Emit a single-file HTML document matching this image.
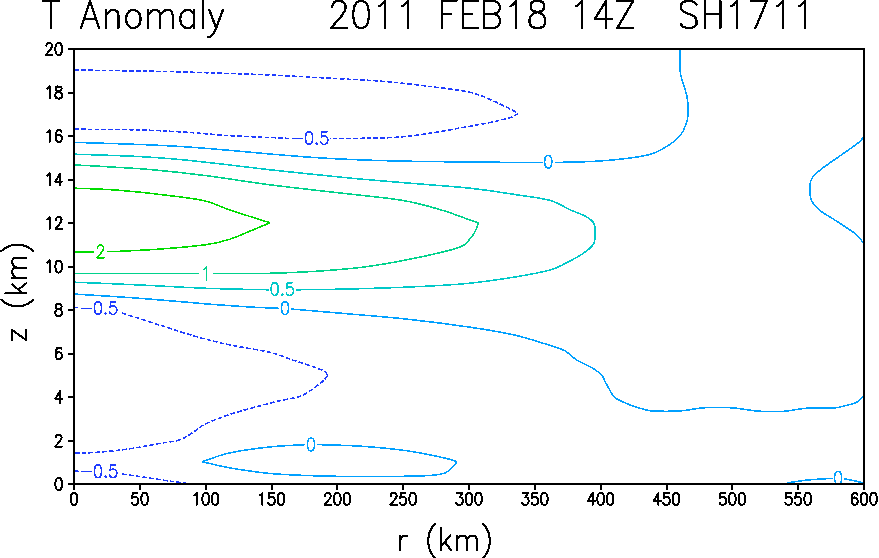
<!DOCTYPE html>
<html><head><meta charset="utf-8"><title>T Anomaly</title>
<style>html,body{margin:0;padding:0;background:#fff;font-family:"Liberation Sans",sans-serif}svg{display:block}</style></head><body>
<svg width="879" height="558" viewBox="0 0 879 558">
<rect x="0" y="0" width="879" height="558" fill="#fff"/>
<g id="contours" shape-rendering="crispEdges">
<path d="M74.5 70 C85.08 70.17 122.07 70.73 138 71 C153.93 71.27 156.43 71.23 170.1 71.6 C183.77 71.97 203.35 72.63 220 73.2 C236.65 73.77 250.28 74.08 270 75 C289.72 75.92 319.33 77.63 338.3 78.7 C357.27 79.77 368.63 80.12 383.8 81.4 C398.97 82.68 414.93 84.58 429.3 86.4 C443.67 88.22 459.42 89.92 470 92.3 C480.58 94.68 485.97 97.85 492.8 100.7 C499.63 103.55 506.77 107.3 511 109.4 C515.23 111.5 517 112.65 518.2 113.3" fill="none" stroke="#1e3cff" stroke-width="1.55" stroke-dasharray="4.7 2.1"/>
<path d="M518.2 113.3 C517 113.98 515.23 115.97 511 117.4 C506.77 118.83 499.25 120.5 492.8 121.9 C486.35 123.3 482.88 123.9 472.3 125.8 C461.72 127.7 441.78 131.4 429.3 133.3 C416.82 135.2 408.78 136.37 397.4 137.2 C386.02 138.03 372.15 138.12 361 138.3 C349.85 138.48 335.58 138.3 330.5 138.3" fill="none" stroke="#1e3cff" stroke-width="1.55" stroke-dasharray="4.7 2.1"/>
<path d="M289.5 138.5 C286.25 138.33 280.08 137.98 270 137.5 C259.92 137.02 243.37 136.5 229 135.6 C214.63 134.7 198.97 133.05 183.8 132.1 C168.63 131.15 156.22 130.38 138 129.9 C119.78 129.42 85.08 129.32 74.5 129.2" fill="none" stroke="#1e3cff" stroke-width="1.55" stroke-dasharray="4.7 2.1"/>
<path d="M74.5 142.4 C85.08 142.73 119.78 143.68 138 144.4 C156.22 145.12 168.63 145.72 183.8 146.7 C198.97 147.68 214.63 149.08 229 150.3 C243.37 151.52 255.58 152.78 270 154 C284.42 155.22 300.33 156.62 315.5 157.6 C330.67 158.58 345.83 159.3 361 159.9 C376.17 160.5 388.33 160.83 406.5 161.2 C424.67 161.57 447.25 161.89 470 162.1 C492.75 162.31 530.83 162.39 543 162.45" fill="none" stroke="#00a0ff" stroke-width="1.55"/>
<path d="M555.2 162.45 C561.85 162.26 582.75 162.03 595.1 161.3 C607.45 160.58 619.82 159.35 629.3 158.1 C638.78 156.85 645.22 156.08 652 153.8 C658.78 151.52 665.3 147.43 670 144.4 C674.7 141.37 677.55 138.9 680.2 135.6 C682.85 132.3 684.57 128.32 685.9 124.6 C687.23 120.88 688 117.85 688.2 113.3 C688.4 108.75 688.05 102.62 687.1 97.3 C686.15 91.98 683.67 85.75 682.5 81.4 C681.33 77.05 680.52 74.77 680.1 71.2 C679.68 67.63 680.02 63.62 680 60 C679.98 56.38 680 51.25 680 49.5" fill="none" stroke="#00a0ff" stroke-width="1.55"/>
<path d="M74.5 154.2 C85.08 154.58 119.78 155.55 138 156.5 C156.22 157.45 168.63 158.5 183.8 159.9 C198.97 161.3 214.63 163.25 229 164.9 C243.37 166.55 255.67 168.2 270 169.8 C284.33 171.4 299.83 172.95 315 174.5 C330.17 176.05 344.33 177.58 361 179.1 C377.67 180.62 396.83 182.08 415 183.6 C433.17 185.12 453.25 186.37 470 188.2 C486.75 190.03 502.23 192.58 515.5 194.6 C528.77 196.62 540.5 197.77 549.6 200.3 C558.7 202.83 564.03 207.08 570.1 209.8 C576.17 212.52 582.02 214.32 586 216.6 C589.98 218.88 592.48 220.65 594 223.5 C595.52 226.35 595.18 230.3 595.1 233.7 C595.02 237.1 595.38 240.68 593.5 243.9 C591.62 247.12 588.45 249.77 583.8 253 C579.15 256.23 571.3 260.45 565.6 263.3 C559.9 266.15 557.95 267.83 549.6 270.1 C541.25 272.37 528.77 274.72 515.5 276.9 C502.23 279.08 484.25 281.68 470 283.2 C455.75 284.72 444.37 285.2 430 286 C415.63 286.8 398.8 287.47 383.8 288 C368.8 288.53 354.6 288.9 340 289.2 C325.4 289.5 303.5 289.7 296.2 289.8" fill="none" stroke="#00c8c8" stroke-width="1.55"/>
<path d="M268.7 289.8 C258.33 289.55 228.23 289.12 206.5 288.3 C184.77 287.48 160.3 285.92 138.3 284.9 C116.3 283.88 85.13 282.65 74.5 282.2" fill="none" stroke="#00c8c8" stroke-width="1.55"/>
<path d="M74.5 164.9 C81.25 165.28 101.75 166.37 115 167.2 C128.25 168.03 138.75 168.48 154 169.9 C169.25 171.32 187.17 173.22 206.5 175.7 C225.83 178.18 248.03 181.95 270 184.8 C291.97 187.65 316.3 190.22 338.3 192.8 C360.3 195.38 384.93 197.47 402 200.3 C419.07 203.13 429.37 206.52 440.7 209.8 C452.03 213.08 463.68 217.83 470 220 C476.32 222.17 477.17 222.33 478.6 222.8" fill="none" stroke="#00d28c" stroke-width="1.55"/>
<path d="M478.6 222.8 C477.93 224.43 476.03 229.98 474.6 232.6 C473.17 235.22 471.48 236.6 470 238.5 C468.52 240.4 468.7 242.15 465.7 244 C462.7 245.85 461.87 246.95 452 249.6 C442.13 252.25 421.67 256.93 406.5 259.9 C391.33 262.87 376.17 265.5 361 267.4 C345.83 269.3 330.67 270.32 315.5 271.3 C300.33 272.28 287 272.93 270 273.3 C253 273.67 222.92 273.47 213.5 273.5" fill="none" stroke="#00d28c" stroke-width="1.55"/>
<path d="M198.5 273.5 L74.5 273.5" fill="none" stroke="#00d28c" stroke-width="1.55"/>
<path d="M74.5 188.2 C81.33 188.5 101.08 188.93 115.5 190 C129.92 191.07 146.22 192.82 161 194.6 C175.78 196.38 192.82 198.17 204.2 200.7 C215.58 203.23 218.33 206.12 229.3 209.8 C240.27 213.48 263.22 220.63 270 222.8" fill="none" stroke="#00dc00" stroke-width="1.55"/>
<path d="M270 222.8 C267 224.05 258.78 227.53 252 230.3 C245.22 233.07 236.88 237.02 229.3 239.4 C221.72 241.78 217.88 243 206.5 244.6 C195.12 246.2 176.17 247.85 161 249 C145.83 250.15 124.5 251.07 115.5 251.5 C106.5 251.93 108.42 251.58 107 251.6" fill="none" stroke="#00dc00" stroke-width="1.55"/>
<path d="M94 251.8 L74.5 251.9" fill="none" stroke="#00dc00" stroke-width="1.55"/>
<path d="M74.5 294.1 C85.13 294.78 116.3 296.57 138.3 298.2 C160.3 299.83 187.88 302.43 206.5 303.9 C225.12 305.37 237.97 306.27 250 307 C262.03 307.73 273.92 308.08 278.7 308.3" fill="none" stroke="#00a0ff" stroke-width="1.55"/>
<path d="M291.1 309 C298.97 309.67 319.07 311.32 338.3 313 C357.53 314.68 384.55 316.73 406.5 319.1 C428.45 321.47 451.83 324.5 470 327.2 C488.17 329.9 500.72 331.78 515.5 335.3 C530.28 338.82 549.98 345.38 558.7 348.3 C567.42 351.22 564.77 350.83 567.8 352.8 C570.83 354.77 572.72 357.52 576.9 360.1 C581.08 362.68 588.72 365.75 592.9 368.3 C597.08 370.85 600.07 373.37 602 375.4 C603.93 377.43 603.23 378.13 604.5 380.5 C605.77 382.87 607.97 386.82 609.6 389.6 C611.23 392.38 611.92 395.08 614.3 397.2 C616.68 399.32 620.45 400.7 623.9 402.3 C627.35 403.9 631.55 405.6 635 406.8 C638.45 408 641.68 408.8 644.6 409.5 C647.52 410.2 648.93 410.7 652.5 411 C656.07 411.3 661.48 411.3 666 411.3 C670.52 411.3 675.73 411.25 679.6 411 C683.47 410.75 685.48 410.32 689.2 409.8 C692.92 409.28 697.1 408.28 701.9 407.9 C706.7 407.52 712.68 407.5 718 407.5 C723.32 407.5 730.2 407.7 733.8 407.9 C737.4 408.1 736.78 408.3 739.6 408.7 C742.42 409.1 747.52 409.88 750.7 410.3 C753.88 410.72 755.15 411 758.7 411.2 C762.25 411.4 767.5 411.5 772 411.5 C776.5 411.5 781.55 411.53 785.7 411.2 C789.85 410.87 792.92 410.05 796.9 409.5 C800.88 408.95 805.88 408.12 809.6 407.9 C813.32 407.68 814.95 408.2 819.2 408.2 C823.45 408.2 830.87 408.3 835.1 407.9 C839.33 407.5 841.15 406.65 844.6 405.8 C848.05 404.95 852.87 404.18 855.8 402.8 C858.73 401.42 860.92 398.63 862.2 397.5 C863.48 396.37 863.28 396.25 863.5 396" fill="none" stroke="#00a0ff" stroke-width="1.55"/>
<path d="M863.5 136.5 C862.73 137.48 862.72 139.25 858.9 142.4 C855.08 145.55 847.05 150.8 840.6 155.4 C834.15 160 825.05 166.05 820.2 170 C815.35 173.95 813.22 175.68 811.5 179.1 C809.78 182.52 809.9 186.9 809.9 190.5 C809.9 194.1 809.98 197.48 811.5 200.7 C813.02 203.92 814.52 206.2 819 209.8 C823.48 213.4 832.13 218.13 838.4 222.3 C844.67 226.47 852.42 231.3 856.6 234.8 C860.78 238.3 862.35 241.88 863.5 243.3" fill="none" stroke="#00a0ff" stroke-width="1.55"/>
<path d="M74.5 307.5 L78.5 307.6" fill="none" stroke="#1e3cff" stroke-width="1.55" stroke-dasharray="4.7 2.1"/>
<path d="M122 313 C128.5 315.08 148.43 321.52 161 325.5 C173.57 329.48 186.02 333.68 197.4 336.9 C208.78 340.12 217.2 342.22 229.3 344.8 C241.4 347.38 259.42 349.85 270 352.4 C280.58 354.95 285.22 357.57 292.8 360.1 C300.38 362.63 310.2 365.7 315.5 367.6 C320.8 369.5 322.52 370.17 324.6 371.5 C326.68 372.83 327.43 374.92 328 375.6" fill="none" stroke="#1e3cff" stroke-width="1.55" stroke-dasharray="4.7 2.1"/>
<path d="M328 375.6 C326.68 376.92 324.45 380.17 320.1 383.5 C315.75 386.83 307.97 392.87 301.9 395.6 C295.83 398.33 289.02 398.63 283.7 399.9 C278.38 401.17 278.32 400.98 270 403.2 C261.68 405.42 244.38 409.83 233.8 413.2 C223.22 416.57 213.32 420.18 206.5 423.4 C199.68 426.62 197.45 429.72 192.9 432.5 C188.35 435.28 184.52 438.32 179.2 440.1 C173.88 441.88 169.72 441.68 161 443.2 C152.28 444.72 137.52 447.68 126.9 449.2 C116.28 450.72 106.03 451.62 97.3 452.3 C88.57 452.98 78.3 453.13 74.5 453.3" fill="none" stroke="#1e3cff" stroke-width="1.55" stroke-dasharray="4.7 2.1"/>
<path d="M74.5 471.2 L79.5 471.3" fill="none" stroke="#1e3cff" stroke-width="1.55" stroke-dasharray="4.7 2.1"/>
<path d="M122.3 474 C126.85 474.67 141.25 476.75 149.6 478 C157.95 479.25 166.33 480.67 172.4 481.5 C178.47 482.33 183.73 482.75 186 483" fill="none" stroke="#1e3cff" stroke-width="1.55" stroke-dasharray="4.7 2.1"/>
<path d="M202.4 461.7 C206.88 460.25 218.03 455.47 229.3 453 C240.57 450.53 257.38 448.28 270 446.9 C282.62 445.52 299.17 445.07 305 444.7" fill="none" stroke="#00a0ff" stroke-width="1.55"/>
<path d="M317 444.6 C324.33 444.87 346.08 445.18 361 446.2 C375.92 447.22 392.85 448.8 406.5 450.7 C420.15 452.6 434.48 455.77 442.9 457.6 C451.32 459.43 454.65 461.02 457 461.7" fill="none" stroke="#00a0ff" stroke-width="1.55"/>
<path d="M457 461.7 C455.78 463.1 452.43 468.02 449.7 470.1 C446.97 472.18 445.9 473.22 440.6 474.2 C435.3 475.18 431.17 475.62 417.9 476 C404.63 476.38 378.07 476.53 361 476.5 C343.93 476.47 330.67 476.3 315.5 475.8 C300.33 475.3 284.37 474.83 270 473.5 C255.63 472.17 240.57 469.77 229.3 467.8 C218.03 465.83 206.88 462.72 202.4 461.7" fill="none" stroke="#00a0ff" stroke-width="1.55"/>
<path d="M786.7 483 C790.4 482.48 801.22 480.67 808.9 479.9 C816.58 479.13 828.82 478.65 832.8 478.4" fill="none" stroke="#00a0ff" stroke-width="1.55"/>
<path d="M844.1 478.8 C845.58 479.08 849.77 479.8 853 480.5 C856.23 481.2 861.75 482.58 863.5 483" fill="none" stroke="#00a0ff" stroke-width="1.55"/>
</g>
<g id="clabels" shape-rendering="crispEdges">
<path d="M292.83 138.3 L301.97 138.3 M308.58 131.7 L307.05 132.3 L306.04 134.1 L305.53 137.1 L305.53 138.9 L306.04 141.9 L307.05 143.7 L308.58 144.3 L309.59 144.3 L311.12 143.7 L312.13 141.9 L312.64 138.9 L312.64 137.1 L312.13 134.1 L311.12 132.3 L309.59 131.7 L308.58 131.7 M316.7 143.1 L316.2 143.7 L316.7 144.3 L317.21 143.7 L316.7 143.1 M326.86 131.7 L321.78 131.7 L321.28 137.1 L321.78 136.5 L323.31 135.9 L324.83 135.9 L326.36 136.5 L327.37 137.7 L327.88 139.5 L327.88 140.7 L327.37 142.5 L326.36 143.7 L324.83 144.3 L323.31 144.3 L321.78 143.7 L321.28 143.1 L320.77 141.9" fill="none" stroke="#1e3cff" stroke-width="1.6" stroke-linecap="round" stroke-linejoin="round"/>
<path d="M547.69 155.5 L546.17 156.1 L545.15 157.9 L544.64 160.9 L544.64 162.7 L545.15 165.7 L546.17 167.5 L547.69 168.1 L548.71 168.1 L550.23 167.5 L551.25 165.7 L551.76 162.7 L551.76 160.9 L551.25 157.9 L550.23 156.1 L548.71 155.5 L547.69 155.5" fill="none" stroke="#00a0ff" stroke-width="1.6" stroke-linecap="round" stroke-linejoin="round"/>
<path d="M97.45 248.2 L97.45 247.6 L97.96 246.4 L98.47 245.8 L99.48 245.2 L101.52 245.2 L102.53 245.8 L103.04 246.4 L103.55 247.6 L103.55 248.8 L103.04 250 L102.02 251.8 L96.94 257.8 L104.06 257.8" fill="none" stroke="#00dc00" stroke-width="1.6" stroke-linecap="round" stroke-linejoin="round"/>
<path d="M203.77 269.6 L204.78 269 L206.31 267.2 L206.31 279.8" fill="none" stroke="#00d28c" stroke-width="1.6" stroke-linecap="round" stroke-linejoin="round"/>
<path d="M274.17 282.7 L272.65 283.3 L271.63 285.1 L271.12 288.1 L271.12 289.9 L271.63 292.9 L272.65 294.7 L274.17 295.3 L275.19 295.3 L276.71 294.7 L277.73 292.9 L278.24 289.9 L278.24 288.1 L277.73 285.1 L276.71 283.3 L275.19 282.7 L274.17 282.7 M282.3 294.1 L281.79 294.7 L282.3 295.3 L282.81 294.7 L282.3 294.1 M292.46 282.7 L287.38 282.7 L286.87 288.1 L287.38 287.5 L288.9 286.9 L290.43 286.9 L291.95 287.5 L292.97 288.7 L293.48 290.5 L293.48 291.7 L292.97 293.5 L291.95 294.7 L290.43 295.3 L288.9 295.3 L287.38 294.7 L286.87 294.1 L286.36 292.9" fill="none" stroke="#00c8c8" stroke-width="1.6" stroke-linecap="round" stroke-linejoin="round"/>
<path d="M284.49 301.8 L282.97 302.4 L281.95 304.2 L281.44 307.2 L281.44 309 L281.95 312 L282.97 313.8 L284.49 314.4 L285.51 314.4 L287.03 313.8 L288.05 312 L288.56 309 L288.56 307.2 L288.05 304.2 L287.03 302.4 L285.51 301.8 L284.49 301.8" fill="none" stroke="#00a0ff" stroke-width="1.6" stroke-linecap="round" stroke-linejoin="round"/>
<path d="M81.73 308.3 L90.87 308.3 M97.48 301.7 L95.95 302.3 L94.94 304.1 L94.43 307.1 L94.43 308.9 L94.94 311.9 L95.95 313.7 L97.48 314.3 L98.49 314.3 L100.02 313.7 L101.03 311.9 L101.54 308.9 L101.54 307.1 L101.03 304.1 L100.02 302.3 L98.49 301.7 L97.48 301.7 M105.6 313.1 L105.1 313.7 L105.6 314.3 L106.11 313.7 L105.6 313.1 M115.76 301.7 L110.68 301.7 L110.18 307.1 L110.68 306.5 L112.21 305.9 L113.73 305.9 L115.26 306.5 L116.27 307.7 L116.78 309.5 L116.78 310.7 L116.27 312.5 L115.26 313.7 L113.73 314.3 L112.21 314.3 L110.68 313.7 L110.18 313.1 L109.67 311.9" fill="none" stroke="#1e3cff" stroke-width="1.6" stroke-linecap="round" stroke-linejoin="round"/>
<path d="M81.73 471.5 L90.87 471.5 M97.48 464.9 L95.95 465.5 L94.94 467.3 L94.43 470.3 L94.43 472.1 L94.94 475.1 L95.95 476.9 L97.48 477.5 L98.49 477.5 L100.02 476.9 L101.03 475.1 L101.54 472.1 L101.54 470.3 L101.03 467.3 L100.02 465.5 L98.49 464.9 L97.48 464.9 M105.6 476.3 L105.1 476.9 L105.6 477.5 L106.11 476.9 L105.6 476.3 M115.76 464.9 L110.68 464.9 L110.18 470.3 L110.68 469.7 L112.21 469.1 L113.73 469.1 L115.26 469.7 L116.27 470.9 L116.78 472.7 L116.78 473.9 L116.27 475.7 L115.26 476.9 L113.73 477.5 L112.21 477.5 L110.68 476.9 L110.18 476.3 L109.67 475.1" fill="none" stroke="#1e3cff" stroke-width="1.6" stroke-linecap="round" stroke-linejoin="round"/>
<path d="M310.49 438.2 L308.97 438.8 L307.95 440.6 L307.44 443.6 L307.44 445.4 L307.95 448.4 L308.97 450.2 L310.49 450.8 L311.51 450.8 L313.03 450.2 L314.05 448.4 L314.56 445.4 L314.56 443.6 L314.05 440.6 L313.03 438.8 L311.51 438.2 L310.49 438.2" fill="none" stroke="#00a0ff" stroke-width="1.6" stroke-linecap="round" stroke-linejoin="round"/>
<path d="M837.59 471.6 L836.07 472.2 L835.05 474 L834.54 477 L834.54 478.8 L835.05 481.8 L836.07 483.6 L837.59 484.2 L838.61 484.2 L840.13 483.6 L841.15 481.8 L841.66 478.8 L841.66 477 L841.15 474 L840.13 472.2 L838.61 471.6 L837.59 471.6" fill="none" stroke="#00a0ff" stroke-width="1.6" stroke-linecap="round" stroke-linejoin="round"/>
</g>
<g id="axes" stroke="#000" stroke-width="2" fill="none" shape-rendering="crispEdges">
<rect x="74" y="49" width="790" height="435"/>
<path d="M74 484 V489.6 M139.83 484 V489.6 M205.67 484 V489.6 M271.5 484 V489.6 M337.33 484 V489.6 M403.17 484 V489.6 M469 484 V489.6 M534.83 484 V489.6 M600.67 484 V489.6 M666.5 484 V489.6 M732.33 484 V489.6 M798.17 484 V489.6 M864 484 V489.6 M74 484 H68 M74 440.5 H68 M74 397 H68 M74 353.5 H68 M74 310 H68 M74 266.5 H68 M74 223 H68 M74 179.5 H68 M74 136 H68 M74 92.5 H68 M74 49 H68"/>
</g>
<g id="ticklabels" shape-rendering="crispEdges">
<path d="M73.53 492.91 L72.1 493.48 L71.16 495.19 L70.68 498.05 L70.68 499.76 L71.16 502.62 L72.1 504.33 L73.53 504.9 L74.47 504.9 L75.9 504.33 L76.84 502.62 L77.32 499.76 L77.32 498.05 L76.84 495.19 L75.9 493.48 L74.47 492.91 L73.53 492.91" fill="none" stroke="#000" stroke-width="2" stroke-linecap="round" stroke-linejoin="round"/>
<path d="M137.46 492.91 L132.72 492.91 L132.25 498.05 L132.72 497.48 L134.15 496.91 L135.57 496.91 L136.99 497.48 L137.94 498.62 L138.41 500.33 L138.41 501.47 L137.94 503.19 L136.99 504.33 L135.57 504.9 L134.15 504.9 L132.72 504.33 L132.25 503.76 L131.78 502.62 M144.1 492.91 L142.68 493.48 L141.73 495.19 L141.26 498.05 L141.26 499.76 L141.73 502.62 L142.68 504.33 L144.1 504.9 L145.05 504.9 L146.47 504.33 L147.42 502.62 L147.89 499.76 L147.89 498.05 L147.42 495.19 L146.47 493.48 L145.05 492.91 L144.1 492.91" fill="none" stroke="#000" stroke-width="2" stroke-linecap="round" stroke-linejoin="round"/>
<path d="M194.29 495.19 L195.24 494.62 L196.66 492.91 L196.66 504.9 M205.19 492.91 L203.77 493.48 L202.82 495.19 L202.35 498.05 L202.35 499.76 L202.82 502.62 L203.77 504.33 L205.19 504.9 L206.14 504.9 L207.56 504.33 L208.51 502.62 L208.98 499.76 L208.98 498.05 L208.51 495.19 L207.56 493.48 L206.14 492.91 L205.19 492.91 M214.67 492.91 L213.25 493.48 L212.3 495.19 L211.83 498.05 L211.83 499.76 L212.3 502.62 L213.25 504.33 L214.67 504.9 L215.62 504.9 L217.04 504.33 L217.99 502.62 L218.46 499.76 L218.46 498.05 L217.99 495.19 L217.04 493.48 L215.62 492.91 L214.67 492.91" fill="none" stroke="#000" stroke-width="2" stroke-linecap="round" stroke-linejoin="round"/>
<path d="M260.12 495.19 L261.07 494.62 L262.49 492.91 L262.49 504.9 M273.87 492.91 L269.13 492.91 L268.66 498.05 L269.13 497.48 L270.55 496.91 L271.97 496.91 L273.4 497.48 L274.34 498.62 L274.82 500.33 L274.82 501.47 L274.34 503.19 L273.4 504.33 L271.97 504.9 L270.55 504.9 L269.13 504.33 L268.66 503.76 L268.18 502.62 M280.51 492.91 L279.08 493.48 L278.14 495.19 L277.66 498.05 L277.66 499.76 L278.14 502.62 L279.08 504.33 L280.51 504.9 L281.45 504.9 L282.88 504.33 L283.82 502.62 L284.3 499.76 L284.3 498.05 L283.82 495.19 L282.88 493.48 L281.45 492.91 L280.51 492.91" fill="none" stroke="#000" stroke-width="2" stroke-linecap="round" stroke-linejoin="round"/>
<path d="M325.01 495.76 L325.01 495.19 L325.48 494.05 L325.96 493.48 L326.91 492.91 L328.8 492.91 L329.75 493.48 L330.22 494.05 L330.7 495.19 L330.7 496.33 L330.22 497.48 L329.28 499.19 L324.54 504.9 L331.17 504.9 M336.86 492.91 L335.44 493.48 L334.49 495.19 L334.02 498.05 L334.02 499.76 L334.49 502.62 L335.44 504.33 L336.86 504.9 L337.81 504.9 L339.23 504.33 L340.18 502.62 L340.65 499.76 L340.65 498.05 L340.18 495.19 L339.23 493.48 L337.81 492.91 L336.86 492.91 M346.34 492.91 L344.92 493.48 L343.97 495.19 L343.5 498.05 L343.5 499.76 L343.97 502.62 L344.92 504.33 L346.34 504.9 L347.29 504.9 L348.71 504.33 L349.66 502.62 L350.13 499.76 L350.13 498.05 L349.66 495.19 L348.71 493.48 L347.29 492.91 L346.34 492.91" fill="none" stroke="#000" stroke-width="2" stroke-linecap="round" stroke-linejoin="round"/>
<path d="M390.84 495.76 L390.84 495.19 L391.32 494.05 L391.79 493.48 L392.74 492.91 L394.63 492.91 L395.58 493.48 L396.06 494.05 L396.53 495.19 L396.53 496.33 L396.06 497.48 L395.11 499.19 L390.37 504.9 L397 504.9 M405.54 492.91 L400.8 492.91 L400.32 498.05 L400.8 497.48 L402.22 496.91 L403.64 496.91 L405.06 497.48 L406.01 498.62 L406.48 500.33 L406.48 501.47 L406.01 503.19 L405.06 504.33 L403.64 504.9 L402.22 504.9 L400.8 504.33 L400.32 503.76 L399.85 502.62 M412.17 492.91 L410.75 493.48 L409.8 495.19 L409.33 498.05 L409.33 499.76 L409.8 502.62 L410.75 504.33 L412.17 504.9 L413.12 504.9 L414.54 504.33 L415.49 502.62 L415.96 499.76 L415.96 498.05 L415.49 495.19 L414.54 493.48 L413.12 492.91 L412.17 492.91" fill="none" stroke="#000" stroke-width="2" stroke-linecap="round" stroke-linejoin="round"/>
<path d="M457.15 492.91 L462.36 492.91 L459.52 497.48 L460.94 497.48 L461.89 498.05 L462.36 498.62 L462.84 500.33 L462.84 501.47 L462.36 503.19 L461.42 504.33 L459.99 504.9 L458.57 504.9 L457.15 504.33 L456.68 503.76 L456.2 502.62 M468.53 492.91 L467.1 493.48 L466.16 495.19 L465.68 498.05 L465.68 499.76 L466.16 502.62 L467.1 504.33 L468.53 504.9 L469.47 504.9 L470.9 504.33 L471.84 502.62 L472.32 499.76 L472.32 498.05 L471.84 495.19 L470.9 493.48 L469.47 492.91 L468.53 492.91 M478.01 492.91 L476.58 493.48 L475.64 495.19 L475.16 498.05 L475.16 499.76 L475.64 502.62 L476.58 504.33 L478.01 504.9 L478.95 504.9 L480.38 504.33 L481.32 502.62 L481.8 499.76 L481.8 498.05 L481.32 495.19 L480.38 493.48 L478.95 492.91 L478.01 492.91" fill="none" stroke="#000" stroke-width="2" stroke-linecap="round" stroke-linejoin="round"/>
<path d="M522.98 492.91 L528.2 492.91 L525.35 497.48 L526.78 497.48 L527.72 498.05 L528.2 498.62 L528.67 500.33 L528.67 501.47 L528.2 503.19 L527.25 504.33 L525.83 504.9 L524.41 504.9 L522.98 504.33 L522.51 503.76 L522.04 502.62 M537.2 492.91 L532.46 492.91 L531.99 498.05 L532.46 497.48 L533.89 496.91 L535.31 496.91 L536.73 497.48 L537.68 498.62 L538.15 500.33 L538.15 501.47 L537.68 503.19 L536.73 504.33 L535.31 504.9 L533.89 504.9 L532.46 504.33 L531.99 503.76 L531.52 502.62 M543.84 492.91 L542.42 493.48 L541.47 495.19 L541 498.05 L541 499.76 L541.47 502.62 L542.42 504.33 L543.84 504.9 L544.79 504.9 L546.21 504.33 L547.16 502.62 L547.63 499.76 L547.63 498.05 L547.16 495.19 L546.21 493.48 L544.79 492.91 L543.84 492.91" fill="none" stroke="#000" stroke-width="2" stroke-linecap="round" stroke-linejoin="round"/>
<path d="M592.61 492.91 L587.87 500.9 L594.98 500.9 M592.61 492.91 L592.61 504.9 M600.19 492.91 L598.77 493.48 L597.82 495.19 L597.35 498.05 L597.35 499.76 L597.82 502.62 L598.77 504.33 L600.19 504.9 L601.14 504.9 L602.56 504.33 L603.51 502.62 L603.98 499.76 L603.98 498.05 L603.51 495.19 L602.56 493.48 L601.14 492.91 L600.19 492.91 M609.67 492.91 L608.25 493.48 L607.3 495.19 L606.83 498.05 L606.83 499.76 L607.3 502.62 L608.25 504.33 L609.67 504.9 L610.62 504.9 L612.04 504.33 L612.99 502.62 L613.46 499.76 L613.46 498.05 L612.99 495.19 L612.04 493.48 L610.62 492.91 L609.67 492.91" fill="none" stroke="#000" stroke-width="2" stroke-linecap="round" stroke-linejoin="round"/>
<path d="M658.44 492.91 L653.7 500.9 L660.81 500.9 M658.44 492.91 L658.44 504.9 M668.87 492.91 L664.13 492.91 L663.66 498.05 L664.13 497.48 L665.55 496.91 L666.97 496.91 L668.4 497.48 L669.34 498.62 L669.82 500.33 L669.82 501.47 L669.34 503.19 L668.4 504.33 L666.97 504.9 L665.55 504.9 L664.13 504.33 L663.66 503.76 L663.18 502.62 M675.51 492.91 L674.08 493.48 L673.14 495.19 L672.66 498.05 L672.66 499.76 L673.14 502.62 L674.08 504.33 L675.51 504.9 L676.45 504.9 L677.88 504.33 L678.82 502.62 L679.3 499.76 L679.3 498.05 L678.82 495.19 L677.88 493.48 L676.45 492.91 L675.51 492.91" fill="none" stroke="#000" stroke-width="2" stroke-linecap="round" stroke-linejoin="round"/>
<path d="M725.22 492.91 L720.48 492.91 L720.01 498.05 L720.48 497.48 L721.91 496.91 L723.33 496.91 L724.75 497.48 L725.7 498.62 L726.17 500.33 L726.17 501.47 L725.7 503.19 L724.75 504.33 L723.33 504.9 L721.91 504.9 L720.48 504.33 L720.01 503.76 L719.54 502.62 M731.86 492.91 L730.44 493.48 L729.49 495.19 L729.02 498.05 L729.02 499.76 L729.49 502.62 L730.44 504.33 L731.86 504.9 L732.81 504.9 L734.23 504.33 L735.18 502.62 L735.65 499.76 L735.65 498.05 L735.18 495.19 L734.23 493.48 L732.81 492.91 L731.86 492.91 M741.34 492.91 L739.92 493.48 L738.97 495.19 L738.5 498.05 L738.5 499.76 L738.97 502.62 L739.92 504.33 L741.34 504.9 L742.29 504.9 L743.71 504.33 L744.66 502.62 L745.13 499.76 L745.13 498.05 L744.66 495.19 L743.71 493.48 L742.29 492.91 L741.34 492.91" fill="none" stroke="#000" stroke-width="2" stroke-linecap="round" stroke-linejoin="round"/>
<path d="M791.06 492.91 L786.32 492.91 L785.84 498.05 L786.32 497.48 L787.74 496.91 L789.16 496.91 L790.58 497.48 L791.53 498.62 L792 500.33 L792 501.47 L791.53 503.19 L790.58 504.33 L789.16 504.9 L787.74 504.9 L786.32 504.33 L785.84 503.76 L785.37 502.62 M800.54 492.91 L795.8 492.91 L795.32 498.05 L795.8 497.48 L797.22 496.91 L798.64 496.91 L800.06 497.48 L801.01 498.62 L801.48 500.33 L801.48 501.47 L801.01 503.19 L800.06 504.33 L798.64 504.9 L797.22 504.9 L795.8 504.33 L795.32 503.76 L794.85 502.62 M807.17 492.91 L805.75 493.48 L804.8 495.19 L804.33 498.05 L804.33 499.76 L804.8 502.62 L805.75 504.33 L807.17 504.9 L808.12 504.9 L809.54 504.33 L810.49 502.62 L810.96 499.76 L810.96 498.05 L810.49 495.19 L809.54 493.48 L808.12 492.91 L807.17 492.91" fill="none" stroke="#000" stroke-width="2" stroke-linecap="round" stroke-linejoin="round"/>
<path d="M857.36 494.62 L856.89 493.48 L855.47 492.91 L854.52 492.91 L853.1 493.48 L852.15 495.19 L851.68 498.05 L851.68 500.9 L852.15 503.19 L853.1 504.33 L854.52 504.9 L854.99 504.9 L856.42 504.33 L857.36 503.19 L857.84 501.47 L857.84 500.9 L857.36 499.19 L856.42 498.05 L854.99 497.48 L854.52 497.48 L853.1 498.05 L852.15 499.19 L851.68 500.9 M863.53 492.91 L862.1 493.48 L861.16 495.19 L860.68 498.05 L860.68 499.76 L861.16 502.62 L862.1 504.33 L863.53 504.9 L864.47 504.9 L865.9 504.33 L866.84 502.62 L867.32 499.76 L867.32 498.05 L866.84 495.19 L865.9 493.48 L864.47 492.91 L863.53 492.91 M873.01 492.91 L871.58 493.48 L870.64 495.19 L870.16 498.05 L870.16 499.76 L870.64 502.62 L871.58 504.33 L873.01 504.9 L873.95 504.9 L875.38 504.33 L876.32 502.62 L876.8 499.76 L876.8 498.05 L876.32 495.19 L875.38 493.48 L873.95 492.91 L873.01 492.91" fill="none" stroke="#000" stroke-width="2" stroke-linecap="round" stroke-linejoin="round"/>
<path d="M58.19 478 L56.76 478.58 L55.82 480.29 L55.34 483.14 L55.34 484.86 L55.82 487.71 L56.76 489.42 L58.19 490 L59.13 490 L60.56 489.42 L61.5 487.71 L61.98 484.86 L61.98 483.14 L61.5 480.29 L60.56 478.58 L59.13 478 L58.19 478" fill="none" stroke="#000" stroke-width="2" stroke-linecap="round" stroke-linejoin="round"/>
<path d="M55.82 437.36 L55.82 436.79 L56.29 435.65 L56.76 435.08 L57.71 434.5 L59.61 434.5 L60.56 435.08 L61.03 435.65 L61.5 436.79 L61.5 437.93 L61.03 439.07 L60.08 440.79 L55.34 446.5 L61.98 446.5" fill="none" stroke="#000" stroke-width="2" stroke-linecap="round" stroke-linejoin="round"/>
<path d="M60.08 391 L55.34 399 L62.45 399 M60.08 391 L60.08 403" fill="none" stroke="#000" stroke-width="2" stroke-linecap="round" stroke-linejoin="round"/>
<path d="M61.5 349.22 L61.03 348.08 L59.61 347.5 L58.66 347.5 L57.24 348.08 L56.29 349.79 L55.82 352.64 L55.82 355.5 L56.29 357.78 L57.24 358.92 L58.66 359.5 L59.13 359.5 L60.56 358.92 L61.5 357.78 L61.98 356.07 L61.98 355.5 L61.5 353.79 L60.56 352.64 L59.13 352.07 L58.66 352.07 L57.24 352.64 L56.29 353.79 L55.82 355.5" fill="none" stroke="#000" stroke-width="2" stroke-linecap="round" stroke-linejoin="round"/>
<path d="M57.71 304 L56.29 304.58 L55.82 305.72 L55.82 306.86 L56.29 308 L57.24 308.57 L59.13 309.14 L60.56 309.71 L61.5 310.86 L61.98 312 L61.98 313.71 L61.5 314.85 L61.03 315.42 L59.61 316 L57.71 316 L56.29 315.42 L55.82 314.85 L55.34 313.71 L55.34 312 L55.82 310.86 L56.76 309.71 L58.19 309.14 L60.08 308.57 L61.03 308 L61.5 306.86 L61.5 305.72 L61.03 304.58 L59.61 304 L57.71 304" fill="none" stroke="#000" stroke-width="2" stroke-linecap="round" stroke-linejoin="round"/>
<path d="M47.28 262.79 L48.23 262.22 L49.65 260.5 L49.65 272.5 M58.19 260.5 L56.76 261.08 L55.82 262.79 L55.34 265.64 L55.34 267.36 L55.82 270.21 L56.76 271.92 L58.19 272.5 L59.13 272.5 L60.56 271.92 L61.5 270.21 L61.98 267.36 L61.98 265.64 L61.5 262.79 L60.56 261.08 L59.13 260.5 L58.19 260.5" fill="none" stroke="#000" stroke-width="2" stroke-linecap="round" stroke-linejoin="round"/>
<path d="M47.28 219.29 L48.23 218.72 L49.65 217 L49.65 229 M55.82 219.86 L55.82 219.29 L56.29 218.15 L56.76 217.58 L57.71 217 L59.61 217 L60.56 217.58 L61.03 218.15 L61.5 219.29 L61.5 220.43 L61.03 221.57 L60.08 223.29 L55.34 229 L61.98 229" fill="none" stroke="#000" stroke-width="2" stroke-linecap="round" stroke-linejoin="round"/>
<path d="M47.28 175.79 L48.23 175.22 L49.65 173.5 L49.65 185.5 M60.08 173.5 L55.34 181.5 L62.45 181.5 M60.08 173.5 L60.08 185.5" fill="none" stroke="#000" stroke-width="2" stroke-linecap="round" stroke-linejoin="round"/>
<path d="M47.28 132.29 L48.23 131.72 L49.65 130 L49.65 142 M61.5 131.72 L61.03 130.58 L59.61 130 L58.66 130 L57.24 130.58 L56.29 132.29 L55.82 135.14 L55.82 138 L56.29 140.28 L57.24 141.42 L58.66 142 L59.13 142 L60.56 141.42 L61.5 140.28 L61.98 138.57 L61.98 138 L61.5 136.29 L60.56 135.14 L59.13 134.57 L58.66 134.57 L57.24 135.14 L56.29 136.29 L55.82 138" fill="none" stroke="#000" stroke-width="2" stroke-linecap="round" stroke-linejoin="round"/>
<path d="M47.28 88.79 L48.23 88.22 L49.65 86.5 L49.65 98.5 M57.71 86.5 L56.29 87.08 L55.82 88.22 L55.82 89.36 L56.29 90.5 L57.24 91.07 L59.13 91.64 L60.56 92.21 L61.5 93.36 L61.98 94.5 L61.98 96.21 L61.5 97.35 L61.03 97.92 L59.61 98.5 L57.71 98.5 L56.29 97.92 L55.82 97.35 L55.34 96.21 L55.34 94.5 L55.82 93.36 L56.76 92.21 L58.19 91.64 L60.08 91.07 L61.03 90.5 L61.5 89.36 L61.5 88.22 L61.03 87.08 L59.61 86.5 L57.71 86.5" fill="none" stroke="#000" stroke-width="2" stroke-linecap="round" stroke-linejoin="round"/>
<path d="M46.34 45.86 L46.34 45.29 L46.81 44.15 L47.28 43.58 L48.23 43 L50.13 43 L51.08 43.58 L51.55 44.15 L52.02 45.29 L52.02 46.43 L51.55 47.57 L50.6 49.29 L45.86 55 L52.5 55 M58.19 43 L56.76 43.58 L55.82 45.29 L55.34 48.14 L55.34 49.86 L55.82 52.71 L56.76 54.42 L58.19 55 L59.13 55 L60.56 54.42 L61.5 52.71 L61.98 49.86 L61.98 48.14 L61.5 45.29 L60.56 43.58 L59.13 43 L58.19 43" fill="none" stroke="#000" stroke-width="2" stroke-linecap="round" stroke-linejoin="round"/>
</g>
<g id="titles" shape-rendering="crispEdges">
<path d="M51.1 0.99 L51.1 28 M43.23 0.99 L58.98 0.99 M90.03 0.99 L81.03 28 M90.03 0.99 L99.03 28 M84.4 19 L95.65 19 M106 10 L106 28 M106 15.14 L109.38 11.28 L111.62 10 L115 10 L117.25 11.28 L118.38 15.14 L118.38 28 M131.6 10 L129.35 11.28 L127.1 13.85 L125.97 17.71 L125.97 20.28 L127.1 24.14 L129.35 26.71 L131.6 28 L134.97 28 L137.22 26.71 L139.47 24.14 L140.6 20.28 L140.6 17.71 L139.47 13.85 L137.22 11.28 L134.97 10 L131.6 10 M147.9 10 L147.9 28 M147.9 15.14 L151.28 11.28 L153.53 10 L156.9 10 L159.15 11.28 L160.28 15.14 L160.28 28 M160.28 15.14 L163.65 11.28 L165.9 10 L169.28 10 L171.53 11.28 L172.65 15.14 L172.65 28 M193.78 10 L193.78 28 M193.78 13.85 L191.53 11.28 L189.28 10 L185.9 10 L183.65 11.28 L181.4 13.85 L180.28 17.71 L180.28 20.28 L181.4 24.14 L183.65 26.71 L185.9 28 L189.28 28 L191.53 26.71 L193.78 24.14 M202.8 0.99 L202.8 28 M209.4 10 L216.15 28 M222.9 10 L216.15 28 L213.9 33.14 L211.65 35.72 L209.4 37 L208.28 37 M332.1 7.42 L332.1 6.14 L333.23 3.57 L334.35 2.28 L336.6 0.99 L341.1 0.99 L343.35 2.28 L344.48 3.57 L345.6 6.14 L345.6 8.71 L344.48 11.28 L342.23 15.14 L330.98 28 L346.73 28 M360.02 0.99 L356.65 2.28 L354.4 6.14 L353.27 12.57 L353.27 16.43 L354.4 22.86 L356.65 26.71 L360.02 28 L362.27 28 L365.65 26.71 L367.9 22.86 L369.02 16.43 L369.02 12.57 L367.9 6.14 L365.65 2.28 L362.27 0.99 L360.02 0.99 M379.25 6.14 L381.5 4.85 L384.88 0.99 L384.88 28 M402.25 6.14 L404.5 4.85 L407.88 0.99 L407.88 28 M441.9 0.99 L441.9 28 M441.9 0.99 L456.52 0.99 M441.9 13.85 L450.9 13.85 M463 0.99 L463 28 M463 0.99 L477.62 0.99 M463 13.85 L472 13.85 M463 28 L477.62 28 M484 0.99 L484 28 M484 0.99 L494.12 0.99 L497.5 2.28 L498.62 3.57 L499.75 6.14 L499.75 8.71 L498.62 11.28 L497.5 12.57 L494.12 13.85 M484 13.85 L494.12 13.85 L497.5 15.14 L498.62 16.43 L499.75 19 L499.75 22.86 L498.62 25.43 L497.5 26.71 L494.12 28 L484 28 M510.55 6.14 L512.8 4.85 L516.17 0.99 L516.17 28 M535.2 0.99 L531.83 2.28 L530.7 4.85 L530.7 7.42 L531.83 10 L534.08 11.28 L538.58 12.57 L541.95 13.85 L544.2 16.43 L545.33 19 L545.33 22.86 L544.2 25.43 L543.08 26.71 L539.7 28 L535.2 28 L531.83 26.71 L530.7 25.43 L529.58 22.86 L529.58 19 L530.7 16.43 L532.95 13.85 L536.33 12.57 L540.83 11.28 L543.08 10 L544.2 7.42 L544.2 4.85 L543.08 2.28 L539.7 0.99 L535.2 0.99 M576.15 6.14 L578.4 4.85 L581.77 0.99 L581.77 28 M606.02 0.99 L594.77 19 L611.65 19 M606.02 0.99 L606.02 28 M633.12 0.99 L617.38 28 M617.38 0.99 L633.12 0.99 M617.38 28 L633.12 28 M696.52 4.85 L694.27 2.28 L690.9 0.99 L686.4 0.99 L683.02 2.28 L680.77 4.85 L680.77 7.42 L681.9 10 L683.02 11.28 L685.27 12.57 L692.02 15.14 L694.27 16.43 L695.4 17.71 L696.52 20.28 L696.52 24.14 L694.27 26.71 L690.9 28 L686.4 28 L683.02 26.71 L680.77 24.14 M704.7 0.99 L704.7 28 M720.45 0.99 L720.45 28 M704.7 13.85 L720.45 13.85 M731.35 6.14 L733.6 4.85 L736.98 0.99 L736.98 28 M766.73 0.99 L755.48 28 M750.98 0.99 L766.73 0.99 M777.05 6.14 L779.3 4.85 L782.67 0.99 L782.67 28 M799.25 6.14 L801.5 4.85 L804.88 0.99 L804.88 28" fill="none" stroke="#000" stroke-width="2.3" stroke-linecap="round" stroke-linejoin="round"/>
<path d="M399.87 535.56 L399.87 550.4 M399.87 541.92 L400.79 538.74 L402.63 536.62 L404.46 535.56 L407.22 535.56" fill="none" stroke="#000" stroke-width="2.1" stroke-linecap="round" stroke-linejoin="round"/>
<path d="M434.7 523.9 L432.86 526.02 L431.03 529.2 L429.19 533.44 L428.27 538.74 L428.27 542.98 L429.19 548.28 L431.03 552.52 L432.86 555.7 L434.7 557.82 M441.12 528.14 L441.12 550.4 M450.3 535.56 L441.12 546.16 M444.8 541.92 L451.22 550.4 M456.73 535.56 L456.73 550.4 M456.73 539.8 L459.48 536.62 L461.32 535.56 L464.07 535.56 L465.91 536.62 L466.83 539.8 L466.83 550.4 M466.83 539.8 L469.58 536.62 L471.42 535.56 L474.17 535.56 L476.01 536.62 L476.93 539.8 L476.93 550.4 M483.35 523.9 L485.19 526.02 L487.02 529.2 L488.86 533.44 L489.78 538.74 L489.78 542.98 L488.86 548.28 L487.02 552.52 L485.19 555.7 L483.35 557.82" fill="none" stroke="#000" stroke-width="2.1" stroke-linecap="round" stroke-linejoin="round"/>
<path d="M12.3 330.05 L26.3 340.15 M12.3 340.15 L12.3 330.05 M26.3 340.15 L26.3 330.05" fill="none" stroke="#000" stroke-width="2.1" stroke-linecap="round" stroke-linejoin="round"/>
<path d="M1.3 299.8 L3.3 301.64 L6.3 303.47 L10.3 305.31 L15.3 306.23 L19.3 306.23 L24.3 305.31 L28.3 303.47 L31.3 301.64 L33.3 299.8 M5.3 293.38 L26.3 293.38 M12.3 284.2 L22.3 293.38 M18.3 289.7 L26.3 283.28 M12.3 277.77 L26.3 277.77 M16.3 277.77 L13.3 275.02 L12.3 273.18 L12.3 270.43 L13.3 268.59 L16.3 267.67 L26.3 267.67 M16.3 267.67 L13.3 264.92 L12.3 263.08 L12.3 260.33 L13.3 258.49 L16.3 257.57 L26.3 257.57 M1.3 251.15 L3.3 249.31 L6.3 247.48 L10.3 245.64 L15.3 244.72 L19.3 244.72 L24.3 245.64 L28.3 247.48 L31.3 249.31 L33.3 251.15" fill="none" stroke="#000" stroke-width="2.1" stroke-linecap="round" stroke-linejoin="round"/>
</g>
</svg></body></html>
